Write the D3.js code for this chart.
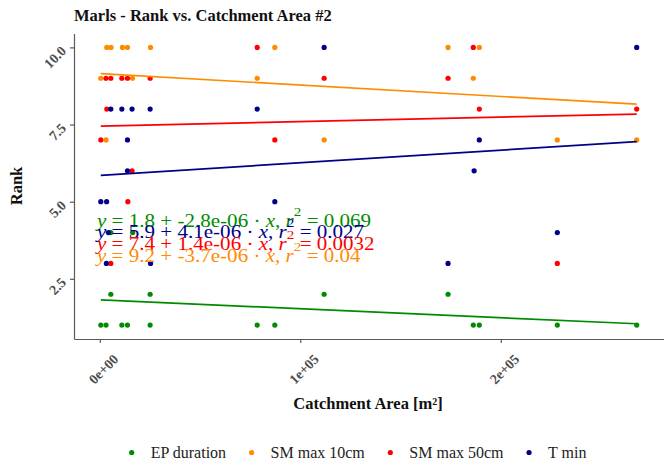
<!DOCTYPE html>
<html>
<head>
<meta charset="utf-8">
<script src="https://cdn.jsdelivr.net/npm/d3@7"></script>
<style>
  body { margin: 0; background: #fff; }
  svg, svg text { font-family: "Liberation Serif", "Times New Roman", "DejaVu Serif", serif; }
</style>
</head>
<body>
<div id="chart"></div>
<script>
(function() {

// series
const seriesNames = ["EP duration", "SM max 10cm", "SM max 50cm", "T min"]
const seriesColors = ["#008B00", "#FF8C00", "#FF0000", "#00008B"]

// points: catchment area [m2] and rank
const epArea = [500, 3100, 11000, 13800, 25100, 78500, 87300, 186300, 189300, 228200, 267800, 5500, 25100, 111900, 173700, 5500, 16400]
const epRank = [1, 1, 1, 1, 1, 1, 1, 1, 1, 1, 1, 2, 2, 2, 2, 4, 4]

const sm10Area = [3500, 5600, 11300, 13800, 25300, 87300, 173700, 189300, 500, 16300, 78500, 186300, 3100, 111900, 228200, 267800]
const sm10Rank = [10, 10, 10, 10, 10, 10, 10, 10, 9, 9, 9, 9, 7, 7, 7, 7]

const sm50Area = [78500, 186300, 3100, 5500, 11000, 13800, 25100, 111900, 173700, 3500, 189300, 267800, 500, 87300, 16100, 14000, 5500, 228200]
const sm50Rank = [10, 10, 9, 9, 9, 9, 9, 9, 9, 8, 8, 8, 7, 7, 6, 5, 3, 3]

const tminArea = [111900, 267800, 5500, 11000, 16100, 25100, 78500, 13800, 189300, 13800, 186700, 500, 3400, 87300, 4300, 228200, 3300, 25300, 173700]
const tminRank = [10, 10, 8, 8, 8, 8, 8, 7, 7, 6, 6, 5, 5, 5, 4, 4, 3, 3, 3]

// fitted lines (series order)
const fitIntercept = [1.82, 9.15, 7.45, 5.85]
const fitSlope = [-2.9e-6, -3.7e-6, 1.45e-6, 4.1e-6]

// equation labels (series order)
const eqIntercept = ["1.8", "9.2", "7.4", "5.9"]
const eqSlope = ["-2.8e-06", "-3.7e-06", "1.4e-06", "4.1e-06"]
const eqR2 = ["0.069", "0.04", "0.0032", "0.027"]
const eqOrder = [0, 3, 2, 1]

// ticks
const yTicks = [2.5, 5, 7.5, 10]
const xTicks = [0, 1e5, 2e5]
const xTickLabels = ["0e+00", "1e+05", "2e+05"]

const areas = [epArea, sm10Area, sm50Area, tminArea]
const ranks = [epRank, sm10Rank, sm50Rank, tminRank]

var FONT = "Liberation Serif, Times New Roman, DejaVu Serif, serif"

var width = 669, height = 466
var margin = { top: 33.5, right: 5.5, bottom: 127, left: 74 }

var svg = d3.select("#chart").append("svg")
  .attr("width", width)
  .attr("height", height)
  .attr("font-family", FONT)

var allX = d3.merge(areas)
var xExt = d3.extent(allX)
var xPad = (xExt[1] - xExt[0]) * 0.05

const xScale = d3.scaleLinear()
  .domain([xExt[0] - xPad, xExt[1] + xPad])
  .range([margin.left, width - margin.right])
const yScale = d3.scaleLinear()
  .domain([0.55, 10.45])
  .range([height - margin.bottom, margin.top])

// title
svg.append("text")
  .attr("x", 74).attr("y", 21)
  .attr("font-family", FONT)
  .attr("font-size", 16.5).attr("font-weight", "bold")
  .attr("fill", "#111")
  .text("Marls - Rank vs. Catchment Area #2")

// axes
var axisColor = "#5a5a5a"
var yAxis = d3.axisLeft(yScale).tickValues(yTicks).tickFormat(d3.format(".1f")).tickSize(4).tickSizeOuter(0)
var gy = svg.append("g")
  .attr("class", "axis y-axis")
  .attr("transform", "translate(" + margin.left + ",0)")
  .call(yAxis)

var xAxis = d3.axisBottom(xScale).tickValues(xTicks).tickFormat((d, i) => xTickLabels[i]).tickSize(4).tickSizeOuter(0)
var gx = svg.append("g")
  .attr("class", "axis x-axis")
  .attr("transform", "translate(0," + (height - margin.bottom) + ")")
  .call(xAxis)

svg.selectAll(".axis").attr("font-family", FONT)
svg.selectAll(".axis path, .axis line").attr("stroke", axisColor).attr("stroke-width", 1.2)
svg.selectAll(".axis text")
  .attr("font-family", FONT)
  .attr("font-size", 14).attr("font-weight", "bold").attr("fill", "#4d4d4d")

gy.selectAll(".tick text")
  .attr("x", null).attr("dy", null)
  .attr("text-anchor", "end")
  .attr("transform", "translate(-7,4) rotate(-45)")
gx.selectAll(".tick text")
  .attr("y", null).attr("dy", null)
  .attr("text-anchor", "end")
  .attr("transform", "translate(19,21) rotate(-45)")

// axis titles
svg.append("text")
  .attr("transform", "translate(22,186) rotate(-90)")
  .attr("text-anchor", "middle")
  .attr("font-family", FONT)
  .attr("font-size", 16.5).attr("font-weight", "bold").attr("fill", "#111")
  .text("Rank")
svg.append("text")
  .attr("x", 368).attr("y", 409)
  .attr("text-anchor", "middle")
  .attr("font-family", FONT)
  .attr("font-size", 16.5).attr("font-weight", "bold").attr("fill", "#111")
  .text("Catchment Area [m²]")

// points
seriesNames.forEach((name, s) => {
  svg.append("g").selectAll("circle")
    .data(areas[s].map((a, i) => ({ area: a, rank: ranks[s][i] })))
    .enter().append("circle")
    .attr("cx", d => xScale(d.area))
    .attr("cy", d => yScale(d.rank))
    .attr("r", 2.6)
    .attr("fill", seriesColors[s])
})

// fit lines
seriesNames.forEach((name, s) => {
  var ext = d3.extent(areas[s])
  svg.append("line")
    .attr("x1", xScale(ext[0])).attr("y1", yScale(fitIntercept[s] + fitSlope[s] * ext[0]))
    .attr("x2", xScale(ext[1])).attr("y2", yScale(fitIntercept[s] + fitSlope[s] * ext[1]))
    .attr("stroke", seriesColors[s])
    .attr("stroke-width", 1.7)
})

// equations
eqOrder.forEach((s, k) => {
  var t = svg.append("text")
    .attr("transform", "translate(97," + (226.7 + k * 11.7) + ") scale(1.17,1)")
    .attr("font-family", FONT)
    .attr("font-size", 18)
    .attr("fill", seriesColors[s])
  t.append("tspan").attr("font-style", "italic").text("y")
  t.append("tspan").text(" = " + eqIntercept[s] + " + " + eqSlope[s] + " · ")
  t.append("tspan").attr("font-style", "italic").text("x")
  t.append("tspan").text(",  ")
  t.append("tspan").attr("font-style", "italic").text("r")
  t.append("tspan").attr("font-size", 13).attr("dy", -11).text("2")
  t.append("tspan").attr("dy", 11).text(" = " + eqR2[s])
})

// legend
var lx = 131.7
seriesNames.forEach((name, s) => {
  svg.append("circle")
    .attr("cx", lx).attr("cy", 452.5).attr("r", 2.6)
    .attr("fill", seriesColors[s])
  var lt = svg.append("text")
    .attr("x", lx + 19).attr("y", 458)
    .attr("font-family", FONT)
    .attr("font-size", 16).attr("fill", "#222")
    .text(name)
  lx = lx + 19 + lt.node().getComputedTextLength() + 25.5
})

})()
</script>
</body>
</html>
